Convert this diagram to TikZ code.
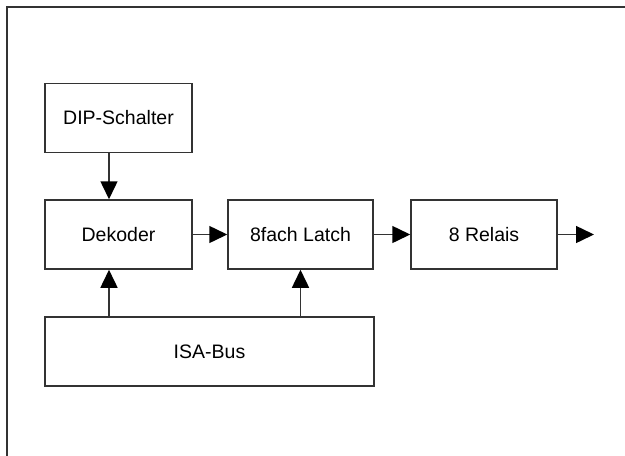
\documentclass[tikz,border=0pt]{standalone}
\usepackage{fontspec}
\setmainfont{Liberation Sans}
\usetikzlibrary{arrows.meta}

\begin{document}
\begin{tikzpicture}[x=1pt,y=-1pt,>={Triangle[length=18pt,width=17pt,fill=black,color=black]},
                    block/.style={draw=black!80,line width=1.5pt,minimum height=69pt,
                                  inner sep=0pt,font=\fontsize{19.5}{22}\selectfont},
                    conn/.style={->,draw=black!80,line width=1.5pt}]
                \useasboundingbox (0,0) rectangle (625,456);
                \draw[black!80,line width=2pt] (7,456) -- (7,7) -- (625,7);
                \node[block,minimum width=147pt] (dip) at (118.5,118) {DIP-Schalter};
                \node[block,minimum width=147pt] (dek) at (118.5,234.5) {Dekoder};
                \node[block,minimum width=145pt] (latch) at (300.5,234.5) {8fach Latch};
                \node[block,minimum width=146pt] (relais) at (484,234.5) {8 Relais};
                \node[block,minimum width=329pt] (isa) at (209.5,351.5) {ISA-Bus};
                \coordinate (out) at (594,234.5);
                \draw[conn] (dip.south -| 109,0) -- (dek.north -| 109,0);
                \draw[conn] (dek) -- (latch);
                \draw[conn] (latch) -- (relais);
                \draw[conn] (relais.east) -- (out);
                \draw[conn] (isa.north -| 109,0) -- (dek.south -| 109,0);
                \draw[conn] (isa.north -| latch) -- (latch.south);
            \end{tikzpicture}
\end{document}
